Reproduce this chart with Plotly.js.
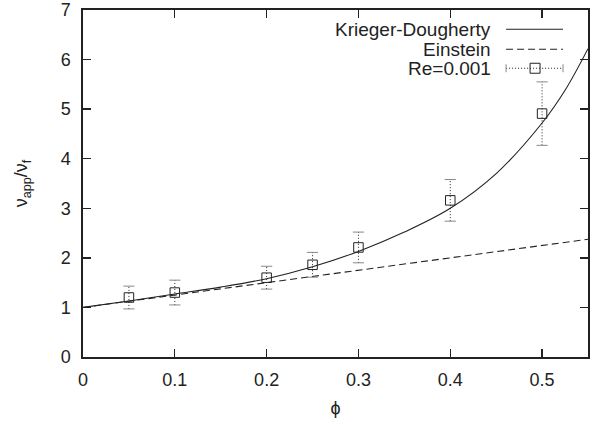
<!DOCTYPE html>
<html>
<head>
<meta charset="utf-8">
<script src="https://cdn.plot.ly/plotly-3.0.1.min.js"></script>
<style>html,body{margin:0;padding:0;background:#fff;}#chart{width:599px;height:424px;}</style>
</head>
<body>
<div id="chart"></div>
<script>
// Krieger-Dougherty curve
const phiKD = [0, 0.05, 0.1, 0.15, 0.2, 0.25, 0.3, 0.35, 0.4, 0.45, 0.5, 0.525, 0.55];
const valKD = [1.0, 1.13, 1.27, 1.41, 1.58, 1.82, 2.13, 2.52, 3.0, 3.7, 4.72, 5.38, 6.22];
// Einstein line
const phiEin = [0, 0.55];
const valEin = [1.0, 2.375];
// Re=0.001 measurements
const phiRe = [0.05, 0.1, 0.2, 0.25, 0.3, 0.4, 0.5];
const valRe = [1.2, 1.3, 1.6, 1.86, 2.21, 3.16, 4.91];
const errRe = [0.23, 0.25, 0.23, 0.25, 0.31, 0.42, 0.64];
const legendNames = ["Krieger-Dougherty", "Einstein", "Re=0.001"];
const xTicks = [0, 0.1, 0.2, 0.3, 0.4, 0.5];
const yTicks = [0, 1, 2, 3, 4, 5, 6, 7];

const W = 599, H = 424;
const M = {l: 83, r: 10.5, t: 10, b: 66.7};
const plotW = W - M.l - M.r, plotH = H - M.t - M.b;
const px2x = p => (p - M.l) / plotW;
const px2y = p => (H - M.b - p) / plotH;
const ink = '#222';
const FONT = 'Liberation Sans, Arial, sans-serif';

// error bar segments
const ebX = [], ebY = [], capX = [], capY = [];
phiRe.forEach((p, i) => {
  ebX.push(p, p, null);
  ebY.push(valRe[i] - errRe[i], valRe[i] + errRe[i], null);
  capX.push(p, p);
  capY.push(valRe[i] - errRe[i], valRe[i] + errRe[i]);
});

const traces = [
  {x: phiKD, y: valKD, mode: 'lines', line: {color: ink, width: 1.1, shape: 'spline'}, hoverinfo: 'skip'},
  {x: phiEin, y: valEin, mode: 'lines', line: {color: ink, width: 1.1, dash: '7px,4px'}, hoverinfo: 'skip'},
  {x: ebX, y: ebY, mode: 'lines', line: {color: ink, width: 1, dash: '1px,2px'}, hoverinfo: 'skip'},
  {x: capX, y: capY, mode: 'markers', marker: {symbol: 'line-ew', size: 8, line: {width: 1, color: '#888'}}, hoverinfo: 'skip'},
  {x: phiRe, y: valRe, mode: 'markers', marker: {symbol: 'square-open', size: 9.5, color: ink, line: {width: 1, color: ink}}}
];

// manual gnuplot-style legend (text right, sample on the right)
const rowsPx = [29.3, 49.3, 68.3];
const textRightPx = 493, sX0 = 506.5, sX1 = 563.5, sMid = 535.5;
const annotations = legendNames.map((n, i) => ({
  xref: 'paper', yref: 'paper', x: px2x(textRightPx), y: px2y(rowsPx[i]),
  xanchor: 'right', yanchor: 'middle', text: n, showarrow: false,
  font: {family: FONT, size: 19, color: ink}
}));
const shapes = [
  {type: 'line', xref: 'paper', yref: 'paper', x0: px2x(sX0), x1: px2x(sX1), y0: px2y(rowsPx[0]), y1: px2y(rowsPx[0]), line: {color: ink, width: 1.1}},
  {type: 'line', xref: 'paper', yref: 'paper', x0: px2x(sX0), x1: px2x(sX1), y0: px2y(rowsPx[1]), y1: px2y(rowsPx[1]), line: {color: ink, width: 1.1, dash: '7px,4px'}},
  {type: 'line', xref: 'paper', yref: 'paper', x0: px2x(sX0), x1: px2x(sX1), y0: px2y(rowsPx[2]), y1: px2y(rowsPx[2]), line: {color: ink, width: 1, dash: '1px,2px'}},
  {type: 'line', xref: 'paper', yref: 'paper', x0: px2x(sX0), x1: px2x(sX0), y0: px2y(rowsPx[2] - 4), y1: px2y(rowsPx[2] + 4), line: {color: '#888', width: 1}},
  {type: 'line', xref: 'paper', yref: 'paper', x0: px2x(sX1), x1: px2x(sX1), y0: px2y(rowsPx[2] - 4), y1: px2y(rowsPx[2] + 4), line: {color: '#888', width: 1}},
  {type: 'rect', xref: 'paper', yref: 'paper', x0: px2x(sMid - 5), x1: px2x(sMid + 5), y0: px2y(rowsPx[2] - 5), y1: px2y(rowsPx[2] + 5), line: {color: ink, width: 1}, fillcolor: 'rgba(0,0,0,0)'}
];

const axisBase = {
  showgrid: false, zeroline: false, showline: true, linecolor: ink, linewidth: 1.6,
  mirror: 'ticks', ticks: 'inside', ticklen: 8, tickwidth: 1.3, tickcolor: ink,
  tickfont: {family: FONT, size: 18, color: ink}
};

const layout = {
  width: W, height: H,
  margin: {l: M.l, r: M.r, t: M.t, b: M.b, pad: 0},
  paper_bgcolor: '#fff', plot_bgcolor: '#fff',
  showlegend: false,
  font: {family: FONT, color: ink},
  xaxis: Object.assign({}, axisBase, {range: [0, 0.55], tickvals: xTicks, ticktext: xTicks.map(String),
    ticklabelstandoff: 6,
    title: {text: 'ϕ', font: {family: FONT, size: 18, color: ink}, standoff: 12}}),
  yaxis: Object.assign({}, axisBase, {range: [0, 7], tickvals: yTicks, ticktext: yTicks.map(String),
    ticklabelstandoff: 7,
    title: {text: 'ν<sub>app</sub>/ν<sub>f</sub>', font: {family: FONT, size: 18, color: ink}, standoff: 28}}),
  annotations: annotations,
  shapes: shapes
};

Plotly.newPlot('chart', traces, layout, {displayModeBar: false, staticPlot: true});
</script>
</body>
</html>
